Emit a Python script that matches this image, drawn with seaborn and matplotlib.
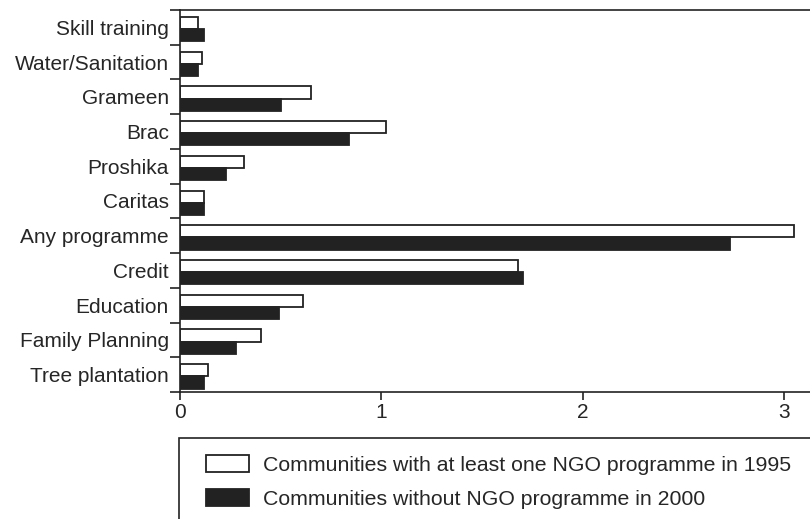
import numpy as np
import pandas as pd
import matplotlib
matplotlib.use("Agg")
import matplotlib.pyplot as plt
import matplotlib.patches as mpatches
import seaborn as sns

# 값은 그림에서 눈으로 읽은 추정치
categories = ["Skill training", "Water/Sanitation", "Grameen", "Brac", "Proshika",
              "Caritas", "Any programme", "Credit", "Education", "Family Planning",
              "Tree plantation"]
with_ngo_1995 = [0.09, 0.11, 0.65, 1.02, 0.32, 0.12, 3.05, 1.68, 0.61, 0.40, 0.14]
without_ngo_2000 = [0.12, 0.09, 0.50, 0.84, 0.23, 0.12, 2.73, 1.70, 0.49, 0.28, 0.12]
series_names = ["Communities with at least one NGO programme in 1995",
                "Communities without NGO programme in 2000"]

df = pd.DataFrame({
    "category": categories * 2,
    "value": with_ngo_1995 + without_ngo_2000,
    "series": [series_names[0]] * len(categories) + [series_names[1]] * len(categories),
})

sns.set_style("white")
plt.rcParams["font.family"] = ["Liberation Sans", "DejaVu Sans"]

fig = plt.figure(figsize=(8.1, 5.19), dpi=100)
ax = fig.add_axes([180 / 810, 1 - 392 / 519, 630 / 810, 382 / 519])

sns.barplot(
    data=df, y="category", x="value", hue="series",
    order=categories, hue_order=series_names,
    palette=["white", "#222222"], edgecolor="#222222", linewidth=1.3,
    width=0.7, orient="h", ax=ax, legend=True,
)

n = len(categories)
ax.set_xlim(0, 3.127)
ax.set_ylim(n - 0.55, -0.55)
ax.set_xticks([0, 1, 2, 3])
ax.set_yticks(np.arange(n) - 0.05)
ax.set_yticklabels(categories)
ax.set_yticks(np.arange(n + 1) - 0.55, minor=True)
ax.tick_params(axis="y", which="major", left=True, length=0, pad=8, labelsize=15)
ax.tick_params(axis="y", which="minor", left=True, length=7, width=1.2,
               direction="out", color="#222222")
ax.tick_params(axis="x", bottom=True, length=6, width=1.2, direction="out", pad=2,
               labelsize=15, color="#222222")
ax.set_xlabel("")
ax.set_ylabel("")
for side in ["left", "top", "bottom"]:
    ax.spines[side].set_linewidth(1.2)
    ax.spines[side].set_color("#222222")
ax.spines["right"].set_visible(False)

# 범례 테두리는 따로 그림 (왼쪽 여백 맞추기 위해)
frame = mpatches.Rectangle((179 / 810, -0.05), 0.8, 1 - 438 / 519 + 0.05,
                           transform=fig.transFigure, fill=False,
                           edgecolor="#222222", linewidth=1.2)
fig.patches.append(frame)

handles, labels = ax.get_legend_handles_labels()
ax.get_legend().remove()
fig.legend(
    handles, labels, loc="upper left",
    bbox_to_anchor=(189 / 810, 1 - 438 / 519),
    bbox_transform=fig.transFigure,
    fontsize=15.3, frameon=False,
    borderpad=0.8, labelspacing=0.68, handlelength=2.0, handleheight=0.82,
    handletextpad=0.7, borderaxespad=0,
)

plt.savefig("out.png", dpi=100)
